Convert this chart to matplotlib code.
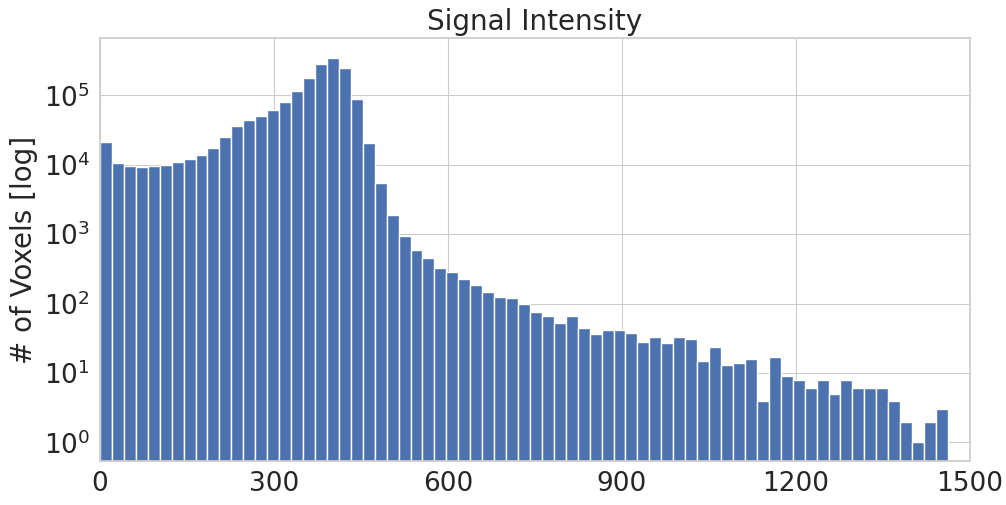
import numpy as np
import matplotlib
matplotlib.use('Agg')
import matplotlib.pyplot as plt
import seaborn as sns

# Contagem de voxels por faixa de intensidade
counts = [21000, 10500, 9600, 9200, 9500, 9900, 11000, 12000, 13800, 17200,
          25000, 36500, 44100, 49800, 61500, 81100, 114000, 178000, 283000, 345000,
          250000, 87500, 20300, 5400, 1900, 930, 585, 448, 321, 282,
          223, 183, 148, 123, 122, 98, 75, 66, 52, 67,
          44, 36, 42, 41, 38, 28, 33, 27, 33, 31,
          15, 24, 13, 14, 16, 4, 17, 9, 8, 6,
          8, 5, 8, 6, 6, 6, 4, 2, 1, 2,
          3]
intensity_max = 1462
xticks = [0, 300, 600, 900, 1200, 1500]
yticks = [1, 10, 100, 1000, 10000, 100000]

sns.set_style('whitegrid')
plt.rcParams['font.family'] = ['DejaVu Sans']

edges = np.linspace(0, intensity_max, len(counts) + 1)
centers = (edges[:-1] + edges[1:]) / 2

fig = plt.figure(figsize=(10.06, 5.05), dpi=100)
ax = fig.add_axes([0.0994, 0.0871, 0.8648, 0.8377])

ax.hist(centers, bins=edges, weights=counts, color='#4C72B0',
        edgecolor='white', linewidth=1.0, log=True)

ax.set_xlim(0, 1500)
ax.set_ylim(0.54, 6.7e5)
ax.set_xticks(xticks)
ax.set_yticks(yticks)
ax.minorticks_off()
ax.tick_params(labelsize=19, colors='#262626', length=0, pad=7)

ax.set_title('Signal Intensity', fontsize=20, color='#262626')
ax.set_ylabel('# of Voxels [log]', fontsize=20, color='#262626')

for s in ax.spines.values():
    s.set_color('#cccccc')
    s.set_linewidth(1.25)

fig.savefig('out.png', dpi=100)
